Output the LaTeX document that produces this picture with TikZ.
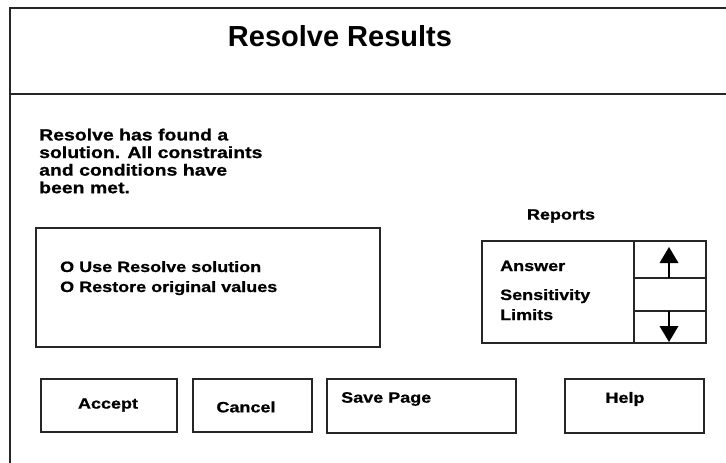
\documentclass[tikz,border=0pt]{standalone}
\usepackage{fontspec}
\setmainfont{Liberation Sans}
\newfontfamily\uif{Liberation Sans}[FakeStretch=1.2,BoldFeatures={FakeStretch=1.2,FakeBold=0.8}]
\begin{document}
\begin{tikzpicture}[x=1pt,y=-1pt,
  frame/.style={line width=1.3pt,black!85},
  box/.style={draw=black!85,line width=1.2pt,rectangle,inner sep=0pt},
  ui/.style={font=\uif\bfseries\fontsize{15}{20}\selectfont,inner sep=0pt},
  para/.style={font=\uif\bfseries\fontsize{16.2}{17.6}\selectfont,inner sep=0pt,align=left}]
\useasboundingbox (0,0) rectangle (726,463);
% outer frame
\coordinate (tl) at (10,8);
\coordinate (tr) at (726,8);
\coordinate (bl) at (10,463);
\coordinate (ml) at (10,94);
\coordinate (mr) at (726,94);
\draw[frame] (bl) -- (tl) -- (tr);
\draw[frame] (ml) -- (mr);
% title
\node[inner sep=0pt,font=\bfseries\fontsize{29}{32}\selectfont] (title) at (340,36) {Resolve Results};
% message
\node[para,anchor=north west] (msg) at (39,128.5) {Resolve has found a\\solution. All constraints\\and conditions have\\been met.};
% options box
\node[box,minimum width=344pt,minimum height=119pt] (opts) at (208,287.5) {};
\node[ui,anchor=base west] (opt1) at (60,272) {O\,\,Use Resolve solution};
\node[ui,anchor=base west] (opt2) at (60,292) {O\,\,Restore original values};
% reports
\node[ui] (replabel) at (561,216) {Reports};
\node[box,minimum width=224pt,minimum height=102pt] (reports) at (594,292) {};
\node[ui,anchor=base west] (ans) at (500,271) {Answer};
\node[ui,anchor=base west] (sens) at (500,300) {Sensitivity};
\node[ui,anchor=base west] (lim) at (500,320) {Limits};
% scroll column
\coordinate (dtop) at (634,241);
\coordinate (dbot) at (634,343);
\coordinate (h1l) at (634,278);
\coordinate (h1r) at (706,278);
\coordinate (h2l) at (634,311);
\coordinate (h2r) at (706,311);
\draw[box] (dtop) -- (dbot);
\draw[box] (h1l) -- (h1r);
\draw[box] (h2l) -- (h2r);
\coordinate (upA) at (669,247);
\coordinate (upB) at (669,263);
\coordinate (upS) at (669,278);
\fill (upA) -- ++(9.5,16) -- ++(-19,0) -- cycle;
\draw[line width=1.2pt] (upB) -- (upS);
\coordinate (dnA) at (669,342);
\coordinate (dnB) at (669,326);
\coordinate (dnS) at (669,311);
\fill (dnA) -- ++(9.5,-16) -- ++(-19,0) -- cycle;
\draw[line width=1.2pt] (dnB) -- (dnS);
% buttons
\node[box,minimum width=136pt,minimum height=53pt] (accept) at (109,405.5) {};
\node[ui] (acceptt) at (108,405) {Accept};
\node[box,minimum width=119pt,minimum height=53pt] (cancel) at (252.5,405.5) {};
\node[ui] (cancelt) at (246,407) {Cancel};
\node[box,minimum width=189pt,minimum height=54pt] (save) at (421.5,406) {};
\node[ui,anchor=west] (savet) at (341,399) {Save Page};
\node[box,minimum width=139pt,minimum height=54pt] (help) at (634.5,406) {};
\node[ui] (helpt) at (625,399) {Help};
\end{tikzpicture}
\end{document}
